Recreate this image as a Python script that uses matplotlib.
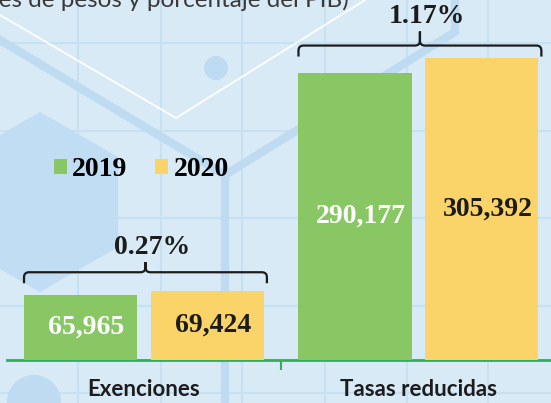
import numpy as np
import matplotlib
matplotlib.use("Agg")
import matplotlib.pyplot as plt
from matplotlib.patches import Polygon, Circle, PathPatch
from matplotlib.path import Path
from matplotlib.lines import Line2D
from matplotlib.transforms import IdentityTransform
from matplotlib.font_manager import FontProperties

# data
categories = ["Exenciones", "Tasas reducidas"]
years = ["2019", "2020"]
values_2019 = [65965, 290177]
values_2020 = [69424, 305392]
pib_share = ["0.27%", "1.17%"]
subtitle = "(Millones de pesos y porcentaje del PIB)"

GREEN = "#88c764"
YELLOW = "#fbd469"
AXIS_GREEN = "#34ad5c"
BG = "#d9eaf7"
DECO = "#bfdbf1"
GRID = "#c6e0f4"
INK = "#1c1c1c"

W, H = 551, 403
fig = plt.figure(figsize=(W / 100, H / 100), dpi=100, facecolor=BG)
ID = IdentityTransform()


def px(pts):
    # image pixels (origin top-left) -> display coords
    return [(x, H - y) for x, y in pts]


# background decoration
for gx in [78, 161, 242, 325, 407, 488]:
    fig.add_artist(Line2D([gx, gx], [0, H], color=GRID, lw=1.5, transform=ID, zorder=-6))
for gy in [43, 131, 218, 306, 393]:
    fig.add_artist(Line2D([0, W], [H - gy, H - gy], color=GRID, lw=1.5, transform=ID, zorder=-6))

hexagon = px([(40, 112), (118, 157), (118, 247), (40, 292), (-38, 247), (-38, 157)])
fig.add_artist(Polygon(hexagon, closed=True, facecolor="#c0ddf3", edgecolor="none",
                       transform=ID, zorder=-5))
band = np.array(px([(0, 40), (225, 175), (455, 32), (455, 0)]))
fig.add_artist(Line2D(band[:, 0], band[:, 1], color=DECO, lw=6, transform=ID, zorder=-5,
                      solid_joinstyle="miter"))
fig.add_artist(Line2D([225, 225], [H - 175, 0], color=DECO, lw=6, transform=ID, zorder=-5))
white = np.array(px([(0, 15), (176, 118), (365, 0)]))
fig.add_artist(Line2D(white[:, 0], white[:, 1], color="white", lw=1.3, transform=ID, zorder=-4))
fig.add_artist(Circle((216, H - 68), 12, facecolor=DECO, edgecolor="none", transform=ID, zorder=-4))
fig.add_artist(Circle((34, H - 402), 27, facecolor=DECO, edgecolor="none", transform=ID, zorder=-4))

# subtitle is cut by the top/left edges in the reference too
fig.text(349, H - 7, subtitle, ha="right", va="baseline", fontsize=17.5, family="Lato",
         color="#3a3a3a", transform=ID)

# chart
ax = fig.add_axes([7 / W, 43 / H, 544 / W, 360 / H])
ax.set_facecolor("none")
ax.set_xlim(-0.499, 1.483)
ax.set_ylim(0, 363500)

x = np.arange(len(categories))
w = 0.412
off = 0.231
b1 = ax.bar(x - off, values_2019, w, color=GREEN, zorder=3)
b2 = ax.bar(x + off, values_2020, w, color=YELLOW, zorder=3)

for sp in ["top", "left", "right"]:
    ax.spines[sp].set_visible(False)
ax.spines["bottom"].set_color(AXIS_GREEN)
ax.spines["bottom"].set_linewidth(2)
ax.set_yticks([])
ax.set_xticks([0.5])
ax.tick_params(axis="x", direction="out", length=7, width=1.5, color=AXIS_GREEN,
               labelbottom=False)

num_font = dict(family="Liberation Serif", weight="bold", fontsize=20)

for bars, vals, col in [(b1, values_2019, "white"), (b2, values_2020, INK)]:
    for rect, v in zip(bars, vals):
        cx = rect.get_x() + rect.get_width() / 2
        ax.annotate(f"{v:,}", xy=(cx, v / 2), xytext=(4, 0), textcoords="offset points",
                    ha="center", va="center", color=col, zorder=4, **num_font)

for i, name in enumerate(categories):
    ax.annotate(name, xy=(i, 0), xytext=(0, -26), textcoords="offset points",
                ha="center", va="baseline", fontsize=16, family="Lato", weight="bold",
                color=INK, annotation_clip=False)

ax.legend([b1, b2], years, loc="center left", bbox_to_anchor=(54 / W, 1 - 170 / H),
          bbox_transform=fig.transFigure, ncol=2, frameon=False,
          prop=FontProperties(family="Liberation Serif", weight="bold", size=20),
          handlelength=0.46, handleheight=0.46, handletextpad=0.2, columnspacing=1.0,
          borderpad=0, borderaxespad=0)


def brace(x0, x1, y, drop=11, tip=13, r=5):
    xm = (x0 + x1) / 2
    verts = [(x0, y - drop), (x0, y - r), (x0, y), (x0 + r, y), (xm - r, y), (xm, y), (xm, y + r), (xm, y + tip),
             (x1, y - drop), (x1, y - r), (x1, y), (x1 - r, y), (xm + r, y), (xm, y), (xm, y + r), (xm, y + tip)]
    codes = [Path.MOVETO, Path.LINETO, Path.CURVE3, Path.CURVE3,
             Path.LINETO, Path.CURVE3, Path.CURVE3, Path.LINETO] * 2
    fig.add_artist(PathPatch(Path(verts, codes), fill=False, edgecolor=INK, lw=1.6,
                             transform=ID, capstyle="butt"))
    return xm, y + tip


gaps = [19, 12]
tips = [10, 14]
for i in range(len(categories)):
    r1, r2 = b1[i], b2[i]
    left = ax.transData.transform((r1.get_x(), 0))[0]
    right = ax.transData.transform((r2.get_x() + r2.get_width(), 0))[0] + 3
    top = ax.transData.transform((0, max(values_2019[i], values_2020[i])))[1]
    xm, ytip = brace(left, right, top + gaps[i], tip=tips[i])
    fig.text(xm + 7, ytip + 15, pib_share[i], ha="center", va="center", color=INK,
             transform=ID, **num_font)

fig.savefig("out.png", dpi=100, facecolor=BG)
